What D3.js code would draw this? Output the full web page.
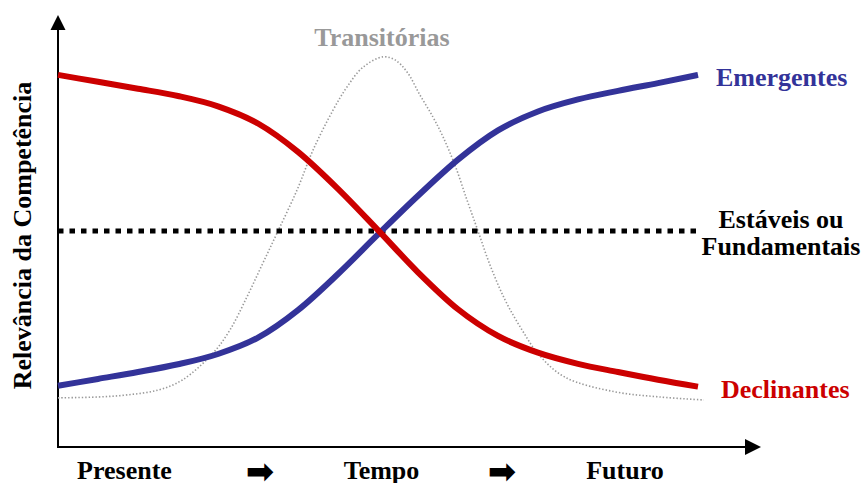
<!DOCTYPE html>
<html><head><meta charset="utf-8">
<script src="https://cdn.jsdelivr.net/npm/d3@7"></script>
<style>body{margin:0;background:#fff}svg text{font-family:"Liberation Serif","Times New Roman",serif;font-weight:bold}</style>
</head><body>
<svg id="c" width="864" height="483"></svg>
<script>
// time axis positions (0..16) and relevance (0..100)
const timeSteps = [0,1,2,3,4,5,6,7,8,9,10,11,12,13,14,15,16];
const emergentes = [14.0,15.6,17.2,19.0,21.4,25.2,31.6,40.0,49.2,58.2,66.6,73.4,77.8,80.6,82.6,84.4,86.3];
const declinantes = [86.3,84.7,83.1,81.4,79.0,75.0,68.4,59.8,50.2,40.4,31.8,25.6,21.7,19.1,17.2,15.4,13.8];
const estaveis = [50,50];
const estaveisT = [0,16];
const transitoriasT = [0,1.0,1.75,2.5,3.1,3.875,4.3,4.725,5.1,5.475,5.975,6.375,6.875,7.225,7.625,8.125,8.425,8.725,9.05,9.375,9.625,9.925,10.225,10.5,10.8,11.175,11.6,12.025,12.675,13.925,15.05,16.15];
const transitorias = [11.2,11.4,11.9,13.0,15.3,21.6,27.0,34.7,42.1,49.5,59.5,68.8,78.1,83.5,88.1,90.5,89.8,87.0,81.6,76.5,71.9,65.3,57.2,50.0,42.1,34.0,27.0,21.2,16.0,12.6,11.4,10.7];
const xLabels = ["Presente","Tempo","Futuro"];
const yTitle = "Relevância da Competência";

const svg = d3.select("#c");
const x = d3.scaleLinear().domain([0,16]).range([58,698]);
const y = d3.scaleLinear().domain([0,100]).range([446,16]);

const line = d3.line().x(d=>x(d[0])).y(d=>y(d[1])).curve(d3.curveMonotoneX);
const lineG = d3.line().x(d=>x(d[0])).y(d=>y(d[1])).curve(d3.curveCatmullRom.alpha(0.5));

// axes
svg.append("line").attr("x1",58).attr("y1",447).attr("x2",58).attr("y2",28).attr("stroke","#000").attr("stroke-width",2);
svg.append("path").attr("d","M58,15 L50.5,30 L65.5,30 Z").attr("fill","#000");
svg.append("line").attr("x1",57).attr("y1",447).attr("x2",748).attr("y2",447).attr("stroke","#000").attr("stroke-width",2);
svg.append("path").attr("d","M761,447 L745,439 L745,455 Z").attr("fill","#000");

// transitórias
svg.append("path").datum(transitoriasT.map((t,i)=>[t,transitorias[i]]))
  .attr("d",lineG).attr("fill","none").attr("stroke","#999").attr("stroke-width",1.6).attr("stroke-dasharray","1.4,2");
// estáveis
svg.append("path").datum(estaveisT.map((t,i)=>[t,estaveis[i]]))
  .attr("d",d3.line().x(d=>x(d[0])).y(d=>y(d[1]))).attr("fill","none").attr("stroke","#000").attr("stroke-width",5).attr("stroke-dasharray","5.5,6");
// emergentes
svg.append("path").datum(timeSteps.map((t,i)=>[t,emergentes[i]]))
  .attr("d",line).attr("fill","none").attr("stroke","#333399").attr("stroke-width",6);
// declinantes
svg.append("path").datum(timeSteps.map((t,i)=>[t,declinantes[i]]))
  .attr("d",line).attr("fill","none").attr("stroke","#CC0000").attr("stroke-width",6);

// labels
const fs = 26;
svg.append("text").attr("x",382).attr("y",46).attr("text-anchor","middle").attr("fill","#999").attr("font-size",fs).text("Transitórias");
svg.append("text").attr("x",716).attr("y",86).attr("fill","#333399").attr("font-size",fs).text("Emergentes");
svg.append("text").attr("x",781).attr("y",228).attr("text-anchor","middle").attr("fill","#000").attr("font-size",fs).text("Estáveis ou");
svg.append("text").attr("x",781).attr("y",255).attr("text-anchor","middle").attr("fill","#000").attr("font-size",fs).text("Fundamentais");
svg.append("text").attr("x",721).attr("y",398).attr("fill","#CC0000").attr("font-size",fs).text("Declinantes");

svg.append("text").attr("transform","translate(31,235.5) rotate(-90)").attr("text-anchor","middle").attr("font-size",fs).text(yTitle);

const xl = [124.5, 381.5, 625];
xLabels.forEach((l,i)=>svg.append("text").attr("x",xl[i]).attr("y",479).attr("text-anchor","middle").attr("font-size",fs).text(l));
[260,502].forEach(cx=>svg.append("text").attr("x",cx).attr("y",483).attr("text-anchor","middle").attr("font-size",34)
  .style("font-family","DejaVu Sans").style("font-weight","bold").text("➡"));
</script>
</body></html>
